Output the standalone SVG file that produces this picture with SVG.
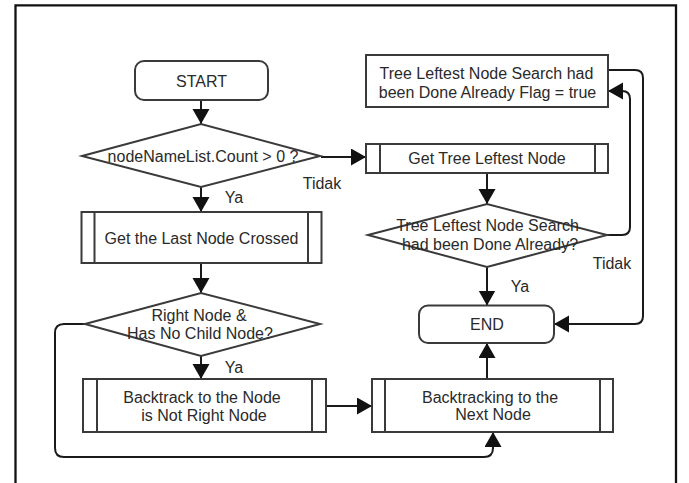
<svg xmlns="http://www.w3.org/2000/svg" width="689" height="483" viewBox="0 0 689 483">
  <defs>
    <marker id="arrow" markerUnits="userSpaceOnUse" markerWidth="17" markerHeight="18" refX="15" refY="8.5" orient="auto">
      <path d="M0,0 L15,8.5 L0,17 z" fill="#111"/>
    </marker>
    <style>
      .shape { fill: #fff; stroke: #3a3a3a; stroke-width: 2; }
      .bar { fill: none; stroke: #3a3a3a; stroke-width: 2; }
      .edge { fill: none; stroke: #1a1a1a; stroke-width: 2; marker-end: url(#arrow); }
      .label { font-family: "Liberation Sans", Arial, sans-serif; font-size: 16px; fill: #2a2a2a; text-anchor: middle; }
    </style>
  </defs>

  <rect x="0" y="0" width="689" height="483" fill="#fff"/>
  <!-- outer frame -->
  <path d="M15.5,495 V5.3 H676 V495" fill="none" stroke="#111" stroke-width="2.3"/>

  <g id="connectors">
    <path class="edge" d="M201,101 V124"/>
    <path class="edge" d="M321,157 H366"/>
    <path class="edge" d="M201,187 V212"/>
    <path class="edge" d="M487,173 V204"/>
    <path class="edge" d="M607,235 H622 Q630,235 630,227 V99 Q630,91 622,91 H608"/>
    <path class="edge" d="M608,70 H635 Q643,70 643,78 V316 Q643,324 635,324 H554"/>
    <path class="edge" d="M487,267 V305.5"/>
    <path class="edge" d="M201,263 V293"/>
    <path class="edge" d="M201,356 V379"/>
    <path class="edge" d="M326,406 H372"/>
    <path class="edge" d="M487,379 V343"/>
    <path class="edge" d="M85,324 H64 Q55,324 55,333 V448 Q55,457 64,457 H484 Q493,457 493,448 V432"/>
  </g>

  <g id="start">
    <rect class="shape" x="135" y="61" width="133" height="39" rx="9"/>
    <text class="label" x="201.5" y="86.5">START</text>
  </g>

  <g id="count-check">
    <polygon class="shape" points="82,156 201,124 320,156 201,187"/>
    <text class="label" x="203" y="161.5">nodeNameList.Count &gt; 0 ?</text>
    <text class="label" x="322" y="188.5">Tidak</text>
    <text class="label" x="234" y="202.5">Ya</text>
  </g>

  <g id="last-node">
    <rect class="shape" x="81.5" y="212" width="240" height="51"/>
    <path class="bar" d="M94.5,212 V263 M308,212 V263"/>
    <text class="label" x="201.5" y="243.5">Get the Last Node Crossed</text>
  </g>

  <g id="right-check">
    <polygon class="shape" points="85,324 201,293 320,324 201,356"/>
    <text class="label" x="199" y="320.5">Right Node &amp;</text>
    <text class="label" x="200" y="338.5">Has No Child Node?</text>
    <text class="label" x="234" y="372.5">Ya</text>
  </g>

  <g id="backtrack">
    <rect class="shape" x="83" y="379" width="243" height="53"/>
    <path class="bar" d="M97,379 V432 M312,379 V432"/>
    <text class="label" x="202" y="402.5">Backtrack to the Node</text>
    <text class="label" x="204" y="420.5">is Not Right Node</text>
  </g>

  <g id="next-node">
    <rect class="shape" x="372" y="379" width="241" height="53"/>
    <path class="bar" d="M385,379 V432 M600,379 V432"/>
    <text class="label" x="490" y="402.5">Backtracking to the</text>
    <text class="label" x="493" y="419.5">Next Node</text>
  </g>

  <g id="end">
    <rect class="shape" x="419" y="305.5" width="135" height="37.5" rx="9"/>
    <text class="label" x="487" y="329.5">END</text>
  </g>

  <g id="leftest-node">
    <rect class="shape" x="366" y="144" width="242" height="29"/>
    <path class="bar" d="M380,144 V173 M595,144 V173"/>
    <text class="label" x="487" y="163.5">Get Tree Leftest Node</text>
  </g>

  <g id="search-check">
    <polygon class="shape" points="368,235 487,204 607,235 487,267"/>
    <text class="label" x="487.5" y="230.5">Tree Leftest Node Search</text>
    <text class="label" x="490" y="249.5">had been Done Already?</text>
    <text class="label" x="520" y="291.5">Ya</text>
    <text class="label" x="612" y="268.5">Tidak</text>
  </g>

  <g id="done-flag">
    <rect class="shape" x="366" y="55" width="242" height="52"/>
    <text class="label" x="486.5" y="78.5">Tree Leftest Node Search had</text>
    <text class="label" x="487.5" y="97.5">been Done Already Flag = true</text>
  </g>
</svg>
